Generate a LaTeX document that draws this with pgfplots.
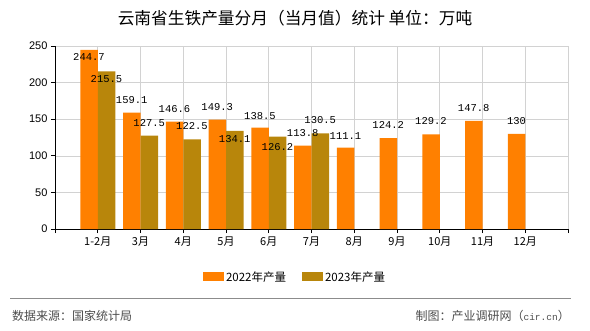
\documentclass[border=0pt]{standalone}
\usepackage{pgfplots}
\pgfplotsset{compat=1.18}
\usepackage{fontspec}
\setmainfont{Noto Sans CJK SC}
\newfontfamily\monof{Liberation Mono}
\newfontfamily\tickf{Liberation Sans}
\definecolor{c22}{HTML}{FF8000}
\definecolor{c23}{HTML}{B8860B}
\pgfplotstableread{
x y o
0 244.7 -7
1 159.1 13
2 146.6 13
3 149.3 13
4 138.5 12
5 113.8 13
6 111.1 12
7 124.2 13
8 129.2 13
9 147.8 13
10 130 13
}\tA
\pgfplotstableread{
x y o
0 215.5 -8
1 127.5 13
2 122.5 13
3 134.1 -8
4 126.2 -10
5 130.5 13
}\tB
\begin{document}
\begin{tikzpicture}[x=1pt,y=1pt]
\path[use as bounding box] (0pt,0pt) rectangle (590pt,330pt);
\node[font=\fontsize{16.7}{18}\selectfont] at (295pt,312pt) {云南省生铁产量分月（当月值）统计\ 单位：万吨};
\begin{axis}[at={(55pt,101pt)}, anchor=south west, scale only axis,
  width=513pt, height=183pt,
  xmin=-1, xmax=11, ymin=0, ymax=250,
  axis x line*=bottom, axis y line*=left,
  axis line style={black, line width=0.8pt},
  tick align=outside, major tick length=4pt,
  tick style={black, line width=0.8pt},
  xtick={-1,0,...,11},
  xticklabels={,1-2月,3月,4月,5月,6月,7月,8月,9月,10月,11月,12月,},
  ytick={0,50,...,250},
  grid=major, grid style={gray!35, line width=0.6pt},
  ticklabel style={font=\fontsize{11}{13}\selectfont},
  yticklabel style={font=\tickf\fontsize{11}{13}\selectfont},
  /pgf/number format/assume math mode=true,
  ybar=0pt, bar width=17.5pt,
  legend style={at={(0.468,-0.262)}, anchor=center, draw=none, fill=none,
    legend columns=2, font=\fontsize{11.5}{13}\selectfont,
    /tikz/every even column/.append style={column sep=14pt}},
  legend image code/.code={\fill[#1] (0pt,-4.5pt) rectangle (21pt,4.5pt);},
  clip=false,
]
\addplot[fill=c22, draw=none, nodes near coords,
  visualization depends on={\thisrow{o} \as \off},
  every node near coord/.append style={anchor=center, yshift=\off pt, font=\monof\fontsize{10.5}{12}\selectfont, text=black}]
  table[x=x,y=y] {\tA};
\addplot[fill=c23, draw=none, nodes near coords,
  visualization depends on={\thisrow{o} \as \off},
  every node near coord/.append style={anchor=center, yshift=\off pt, font=\monof\fontsize{10.5}{12}\selectfont, text=black}]
  table[x=x,y=y] {\tB};
\legend{2022年产量,2023年产量}
\end{axis}
\draw[gray!90, line width=0.8pt] (10pt,32pt) -- (571pt,32pt);
\node[anchor=west, text=black!70, font=\fontsize{12}{14}\selectfont, inner sep=0pt] at (12pt,14pt) {数据来源：国家统计局};
\node[anchor=east, text=black!70, font=\fontsize{12}{14}\selectfont, inner sep=0pt] at (570pt,14pt) {制图：产业调研网（{\monof\fontsize{9.5}{12}\selectfont cir.cn}）};
\end{tikzpicture}
\end{document}
